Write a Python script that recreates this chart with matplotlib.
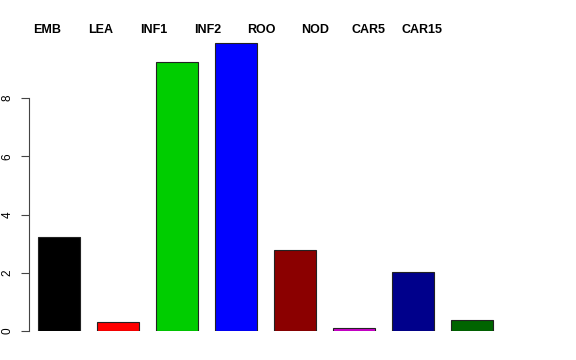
import matplotlib
matplotlib.use("Agg")
import matplotlib.pyplot as plt
import numpy as np

labels = ["EMB", "LEA", "INF1", "INF2", "ROO", "NOD", "CAR5", "CAR15"]
values = [3.23, 0.31, 9.24, 9.9, 2.78, 0.12, 2.03, 0.38]
colors = ["black", "red", "#00CD00", "blue", "#8B0000", "#CD00CD", "#00008B", "#006400"]

plt.rcParams["font.family"] = ["Liberation Sans", "DejaVu Sans"]

fig = plt.figure(figsize=(5.76, 3.6), dpi=100)
ax = fig.add_axes([29 / 576, 29 / 360, 500 / 576, 291 / 360])

x = np.arange(len(values))
ax.bar(x, values, width=0.712, color=colors, edgecolor="#222222", linewidth=0.8)

ax.set_xlim(-0.508, 7.966)
ax.set_ylim(0, 10)

# category names along the top
for i, name in enumerate(labels):
    ax.text(-0.2 + 0.907 * i, 10.34, name, ha="center", va="center",
            fontsize=9, fontweight="bold", clip_on=False)

for s in ["top", "right", "bottom"]:
    ax.spines[s].set_visible(False)
ax.spines["left"].set_bounds(0, 8)
ax.spines["left"].set_color("#444444")
ax.set_xticks([])
ax.set_yticks([0, 2, 4, 6, 8])
ax.tick_params(axis="y", length=6, width=0.8, color="#444444", labelsize=8.5, pad=5)
for t in ax.get_yticklabels():
    t.set_rotation(90)
    t.set_va("center")

fig.savefig("out.png", dpi=100)
